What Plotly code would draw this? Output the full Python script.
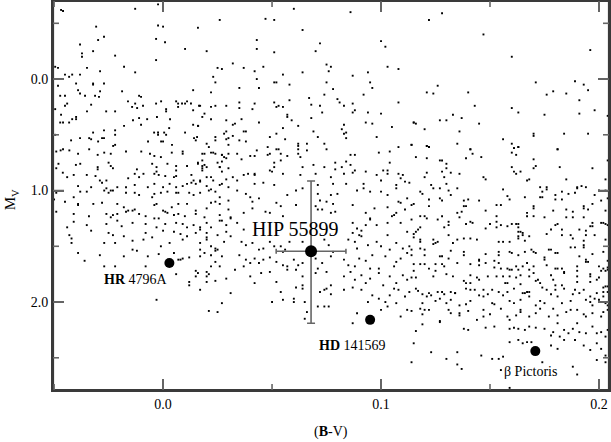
import plotly.graph_objects as go

# ---------------- field stars (B-V, M_V), read region by region ----------------
field_upper_left = [
    (-0.0468, -0.62), (-0.0459, -0.61), (-0.0128, -0.63), (-0.0023, -0.67), (-0.0307, -0.47),
    (-0.0023, -0.48), (0.0, -0.47), (-0.0271, -0.38), (-0.0298, -0.35), (-0.0032, -0.36),
    (0.0009, -0.33), (-0.0381, -0.31), (-0.0321, -0.25), (-0.0372, -0.23), (-0.0372, -0.20),
    (0.0101, -0.27), (-0.0220, -0.21), (-0.0032, -0.17), (-0.0495, -0.11), (-0.0482, -0.10),
    (-0.0349, -0.10), (-0.0179, -0.11), (-0.0289, -0.07), (-0.0128, -0.06), (-0.0450, -0.04),
    (-0.0431, -0.02), (-0.0417, -0.04), (-0.0381, -0.04), (-0.0321, 0.04), (-0.0321, 0.05),
    (-0.0271, 0.04), (-0.0399, 0.04), (-0.0482, 0.06), (-0.0390, 0.10), (-0.0381, 0.13),
    (-0.0358, 0.15), (-0.0289, 0.11), (-0.0312, 0.15), (-0.0294, 0.16), (-0.0188, 0.11),
    (0.0138, 0.10), (-0.0472, 0.15), (-0.0450, 0.15), (-0.0110, 0.15), (-0.0101, 0.16),
    (-0.0161, 0.20), (-0.0128, 0.22), (-0.0142, 0.25), (-0.0119, 0.26), (-0.0092, 0.24),
    (-0.0032, 0.22), (-0.0009, 0.20), (0.0060, 0.20), (0.0069, 0.22), (0.0069, 0.25),
    (0.0087, 0.22), (0.0110, 0.20), (0.0101, 0.22), (0.0128, 0.22), (-0.0440, 0.22),
    (-0.0450, 0.24), (-0.0495, 0.27), (-0.0330, 0.23), (-0.0261, 0.29), (-0.0220, 0.29),
    (-0.0349, 0.29), (0.0014, 0.27), (0.0014, 0.29), (0.0138, 0.28), (0.0165, 0.24),
    (-0.0468, 0.32), (-0.0472, 0.39), (-0.0459, 0.39), (-0.0417, 0.36), (-0.0399, 0.34),
    (-0.0399, 0.36), (-0.0431, 0.39), (-0.0138, 0.37), (-0.0110, 0.35), (-0.0073, 0.36),
    (-0.0028, 0.34), (0.0032, 0.36), (-0.0179, 0.42), (-0.0101, 0.41), (0.0138, 0.41),
    (0.0161, 0.42), (0.0028, 0.44), (-0.0321, 0.48), (-0.0271, 0.46), (-0.0220, 0.46),
    (-0.0220, 0.50), (-0.0041, 0.48), (-0.0023, 0.48), (-0.0023, 0.50), (0.0005, 0.48),
    (0.0014, 0.50), (0.0101, 0.48), (-0.0495, 0.50), (-0.0381, 0.53), (-0.0339, 0.53),
    (-0.0330, 0.54), (-0.0298, 0.56), (-0.0280, 0.53), (-0.0271, 0.53), (-0.0422, 0.55),
    (-0.0069, 0.56), (-0.0009, 0.56), (0.0, 0.56), (0.0041, 0.59), (-0.0220, 0.59),
    (-0.0229, 0.60), (0.0142, 0.53), (0.0156, 0.52), (-0.0459, 0.63), (-0.0339, 0.63),
]

field_middle_left = [
    (-0.049, 0.65), (-0.047, 0.64), (-0.043, 0.64), (-0.039, 0.67), (-0.030, 0.68), (-0.027, 0.66),
    (-0.024, 0.67), (-0.017, 0.65), (-0.010, 0.65), (-0.006, 0.67), (-0.004, 0.69), (-0.001, 0.70),
    (0.004, 0.66), (0.009, 0.67), (0.009, 0.65), (0.019, 0.67), (0.023, 0.66), (0.027, 0.68),
    (0.030, 0.67), (-0.048, 0.76), (-0.049, 0.80), (-0.040, 0.77), (-0.038, 0.76), (-0.030, 0.79),
    (-0.030, 0.81), (-0.025, 0.75), (-0.024, 0.78), (-0.023, 0.80), (-0.012, 0.81), (-0.013, 0.85),
    (-0.005, 0.76), (-0.003, 0.79), (-0.003, 0.83), (0.002, 0.76), (0.006, 0.78), (0.006, 0.82),
    (0.011, 0.78), (0.016, 0.76), (0.018, 0.78), (0.020, 0.79), (0.018, 0.82), (0.026, 0.79),
    (0.030, 0.80), (-0.046, 0.84), (-0.044, 0.88), (-0.041, 0.86), (-0.035, 0.86), (-0.031, 0.87),
    (-0.029, 0.91), (-0.026, 0.91), (-0.016, 0.89), (-0.011, 0.88), (-0.009, 0.85), (-0.004, 0.85),
    (-0.002, 0.86), (0.001, 0.87), (0.005, 0.88), (0.006, 0.87), (0.013, 0.86), (0.014, 0.91),
    (0.017, 0.91), (0.020, 0.88), (0.022, 0.88), (0.023, 0.91), (0.029, 0.90), (-0.039, 0.96),
    (-0.033, 0.97), (-0.028, 0.93), (-0.026, 0.98), (-0.024, 1.00), (-0.021, 0.97), (-0.017, 0.97),
    (-0.013, 0.95), (-0.007, 0.97), (-0.004, 0.94), (0.000, 0.97), (0.003, 0.94), (0.006, 0.97),
    (0.009, 0.96), (0.011, 0.94), (0.013, 0.93), (0.015, 0.94), (0.017, 0.92), (0.020, 0.96),
    (0.022, 0.99), (0.026, 0.95), (0.027, 0.94), (0.030, 0.97), (-0.050, 1.08), (-0.049, 1.02),
    (-0.041, 1.06), (-0.038, 1.01), (-0.035, 1.01), (-0.027, 1.00), (-0.025, 1.02), (-0.023, 1.00),
    (-0.017, 1.02), (-0.013, 1.02), (-0.011, 1.04), (-0.005, 1.06), (-0.004, 1.03), (-0.001, 1.02),
    (0.002, 1.01), (0.006, 1.02), (0.007, 1.02), (0.012, 1.02), (0.014, 1.04), (0.017, 1.02),
    (0.021, 1.00), (0.024, 1.01), (0.022, 1.11), (0.024, 1.10), (0.026, 1.06), (-0.045, 1.10),
    (-0.039, 1.13), (-0.039, 1.12), (-0.032, 1.12), (-0.028, 1.11), (-0.021, 1.12), (-0.018, 1.15),
    (-0.016, 1.18), (-0.014, 1.18), (-0.013, 1.17), (-0.004, 1.13), (-0.003, 1.12), (0.000, 1.18),
    (0.001, 1.19), (0.004, 1.15), (0.007, 1.12), (0.011, 1.12), (0.015, 1.18), (0.020, 1.16),
    (0.026, 1.12), (0.030, 1.17), (0.030, 1.09), (-0.049, 1.19), (-0.041, 1.21), (-0.034, 1.23),
    (-0.026, 1.21), (-0.024, 1.24), (-0.023, 1.22), (-0.021, 1.21), (-0.017, 1.19), (-0.011, 1.21),
    (-0.008, 1.23), (-0.004, 1.25), (-0.002, 1.25), (0.002, 1.20), (0.005, 1.22), (0.007, 1.21),
    (0.010, 1.23), (0.015, 1.21), (0.019, 1.24), (0.026, 1.22), (0.027, 1.27), (0.031, 1.24),
    (-0.041, 1.28), (-0.035, 1.31), (-0.026, 1.30), (-0.021, 1.27), (-0.019, 1.32), (-0.014, 1.29),
    (-0.008, 1.30), (-0.003, 1.33), (0.001, 1.30), (0.006, 1.29), (0.009, 1.30), (0.011, 1.33),
    (0.014, 1.31), (0.017, 1.33), (0.020, 1.29), (0.022, 1.33), (0.026, 1.27), (0.029, 1.31),
    (-0.044, 1.33), (-0.043, 1.40), (-0.033, 1.36), (-0.025, 1.38), (-0.023, 1.40), (-0.018, 1.41),
    (-0.008, 1.38), (-0.005, 1.42), (0.000, 1.36), (0.005, 1.37), (0.008, 1.39), (0.011, 1.41),
    (0.015, 1.38), (0.017, 1.35), (0.020, 1.42), (0.025, 1.40), (0.029, 1.37), (0.020, 1.38),
    (-0.042, 1.43), (-0.042, 1.47), (-0.027, 1.47), (-0.022, 1.47), (-0.014, 1.45), (-0.009, 1.44),
    (-0.001, 1.50), (0.003, 1.47), (0.009, 1.44), (0.017, 1.47), (0.020, 1.44), (0.022, 1.50),
    (0.024, 1.52), (0.028, 1.46), (0.017, 1.53), (0.025, 1.53), (-0.039, 1.56), (-0.036, 1.63),
    (-0.029, 1.58), (-0.018, 1.59), (-0.014, 1.53), (-0.012, 1.54), (-0.007, 1.59), (-0.002, 1.57),
    (0.005, 1.56), (0.012, 1.60), (0.017, 1.59), (0.019, 1.56), (0.022, 1.58), (0.024, 1.54),
    (0.027, 1.59), (-0.027, 1.68), (-0.022, 1.68), (-0.008, 1.68), (0.007, 1.62), (0.008, 1.62),
    (0.009, 1.61), (0.015, 1.72), (0.016, 1.74), (0.020, 1.73), (0.022, 1.68), (0.026, 1.68),
    (0.024, 1.64), (0.012, 1.82), (0.012, 1.85), (0.020, 1.77), (0.021, 1.75), (0.015, 1.77),
    (0.024, 1.81), (0.029, 1.79), (0.006, 1.75), (0.017, 1.89), (0.020, 1.82), (-0.003, 1.98),
    (0.021, 2.08), (0.025, 2.09), (0.027, 2.01),
]

field_upper_middle = [
    (0.060, -0.63), (0.086, -0.60), (0.026, -0.53), (0.047, -0.54), (0.051, -0.53), (0.016, -0.46),
    (0.064, -0.44), (0.043, -0.35), (0.043, -0.27), (0.072, -0.32), (0.100, -0.34), (0.102, -0.29),
    (0.020, -0.25), (0.051, -0.24), (0.070, -0.25), (0.032, -0.14), (0.075, -0.13), (0.077, -0.11),
    (0.025, -0.10), (0.027, -0.09), (0.037, -0.10), (0.042, -0.07), (0.046, -0.11), (0.076, -0.07),
    (0.103, -0.11), (0.108, -0.09), (0.064, -0.06), (0.094, -0.06), (0.023, -0.02), (0.055, -0.04),
    (0.087, -0.03), (0.043, 0.00), (0.024, 0.03), (0.051, 0.03), (0.052, 0.03), (0.075, 0.03),
    (0.095, 0.03), (0.058, 0.05), (0.035, 0.08), (0.044, 0.08), (0.078, 0.09), (0.096, 0.08),
    (0.022, 0.12), (0.074, 0.14), (0.092, 0.14), (0.067, 0.17), (0.080, 0.18), (0.058, 0.19),
    (0.081, 0.21), (0.087, 0.22), (0.108, 0.21), (0.017, 0.24), (0.022, 0.25), (0.024, 0.24),
    (0.029, 0.24), (0.035, 0.21), (0.035, 0.26), (0.042, 0.22), (0.041, 0.27), (0.051, 0.21),
    (0.052, 0.25), (0.053, 0.24), (0.055, 0.25), (0.068, 0.23), (0.072, 0.24), (0.083, 0.24),
    (0.019, 0.31), (0.018, 0.34), (0.022, 0.36), (0.029, 0.37), (0.036, 0.36), (0.057, 0.32),
    (0.057, 0.34), (0.059, 0.37), (0.073, 0.30), (0.068, 0.35), (0.087, 0.30), (0.088, 0.28),
    (0.094, 0.30), (0.100, 0.31), (0.044, 0.39), (0.016, 0.42), (0.032, 0.41), (0.033, 0.40),
    (0.055, 0.44), (0.062, 0.42), (0.083, 0.41), (0.093, 0.39), (0.096, 0.40), (0.105, 0.43),
    (0.115, 0.39), (0.029, 0.47), (0.037, 0.47), (0.038, 0.47), (0.082, 0.45), (0.083, 0.49),
    (0.084, 0.48), (0.069, 0.47), (0.024, 0.52), (0.024, 0.55), (0.028, 0.49), (0.029, 0.54),
    (0.030, 0.53), (0.032, 0.51), (0.035, 0.55), (0.038, 0.56), (0.049, 0.52), (0.052, 0.49),
    (0.056, 0.54), (0.071, 0.52), (0.084, 0.53), (0.098, 0.52), (0.015, 0.55), (0.020, 0.58),
    (0.021, 0.61), (0.030, 0.59), (0.062, 0.58), (0.062, 0.60), (0.066, 0.58), (0.074, 0.58),
    (0.048, 0.61), (0.114, 0.59), (0.108, 0.61), (0.018, 0.67), (0.022, 0.66), (0.024, 0.67),
    (0.027, 0.68), (0.028, 0.70), (0.029, 0.71), (0.034, 0.67), (0.040, 0.69), (0.043, 0.64),
    (0.042, 0.69), (0.048, 0.68), (0.049, 0.67), (0.052, 0.63), (0.053, 0.63), (0.054, 0.67),
    (0.057, 0.69), (0.062, 0.63), (0.062, 0.67), (0.063, 0.70), (0.066, 0.64), (0.075, 0.63),
    (0.086, 0.68), (0.088, 0.68), (0.099, 0.66), (0.104, 0.65), (0.018, 0.73), (0.016, 0.75),
    (0.019, 0.77), (0.018, 0.80), (0.025, 0.75), (0.027, 0.74), (0.026, 0.79), (0.036, 0.72),
    (0.051, 0.75), (0.051, 0.79), (0.054, 0.73), (0.064, 0.79), (0.069, 0.77), (0.074, 0.79),
    (0.079, 0.75), (0.079, 0.81), (0.082, 0.79), (0.084, 0.74), (0.086, 0.77), (0.088, 0.82),
    (0.104, 0.75), (0.101, 0.82), (0.103, 0.82), (0.027, 0.83), (0.039, 0.85), (0.042, 0.85),
    (0.049, 0.82), (0.108, 0.85),
]

field_upper_right = [
    (0.128, -0.59), (0.122, -0.53), (0.147, -0.40), (0.160, -0.20), (0.196, -0.26), (0.171, 0.03),
    (0.189, 0.02), (0.193, 0.05), (0.195, 0.10), (0.126, 0.06), (0.121, 0.12), (0.124, 0.13),
    (0.140, 0.12), (0.176, 0.14), (0.179, 0.11), (0.185, 0.13), (0.191, 0.19), (0.143, 0.24),
    (0.160, 0.26), (0.163, 0.30), (0.198, 0.28), (0.204, 0.33), (0.133, 0.32), (0.137, 0.35),
    (0.115, 0.39), (0.116, 0.40), (0.127, 0.37), (0.130, 0.37), (0.145, 0.40), (0.175, 0.32),
    (0.191, 0.31), (0.120, 0.45), (0.136, 0.47), (0.170, 0.49), (0.170, 0.51), (0.184, 0.49),
    (0.195, 0.49), (0.156, 0.54), (0.114, 0.59), (0.121, 0.60), (0.122, 0.61), (0.135, 0.58),
    (0.160, 0.58), (0.163, 0.61), (0.161, 0.62), (0.141, 0.63), (0.181, 0.63),
]

field_middle_right = [
    (0.121, 0.60), (0.122, 0.61), (0.141, 0.63), (0.142, 0.67), (0.160, 0.66), (0.161, 0.62),
    (0.163, 0.61), (0.162, 0.68), (0.116, 0.70), (0.121, 0.71), (0.127, 0.73), (0.128, 0.73),
    (0.139, 0.71), (0.146, 0.70), (0.170, 0.72), (0.181, 0.63), (0.204, 0.73), (0.130, 0.76),
    (0.130, 0.80), (0.128, 0.83), (0.132, 0.84), (0.136, 0.85), (0.121, 0.84), (0.120, 0.88),
    (0.129, 0.88), (0.160, 0.79), (0.161, 0.83), (0.162, 0.85), (0.164, 0.83), (0.171, 0.78),
    (0.170, 0.80), (0.182, 0.79), (0.197, 0.80), (0.147, 0.88), (0.148, 0.90), (0.167, 0.91),
    (0.168, 0.90), (0.185, 0.90), (0.203, 0.90), (0.113, 0.93), (0.123, 0.95), (0.124, 0.98),
    (0.118, 1.01), (0.119, 1.03), (0.127, 0.98), (0.130, 0.94), (0.131, 1.00), (0.132, 1.04),
    (0.135, 0.98), (0.156, 0.99), (0.158, 1.05), (0.173, 0.97), (0.174, 1.01), (0.176, 0.99),
    (0.176, 0.97), (0.180, 1.04), (0.183, 1.01), (0.186, 1.03), (0.189, 1.02), (0.190, 0.97),
    (0.192, 0.96), (0.194, 0.97), (0.190, 0.98), (0.198, 1.04), (0.200, 1.00), (0.203, 1.00),
    (0.115, 1.12), (0.114, 1.13), (0.122, 1.08), (0.122, 1.14), (0.127, 1.07), (0.128, 1.09),
    (0.138, 1.09), (0.140, 1.08), (0.138, 1.14), (0.139, 1.14), (0.145, 1.09), (0.159, 1.08),
    (0.166, 1.06), (0.170, 1.14), (0.170, 1.16), (0.153, 1.13), (0.155, 1.13), (0.173, 1.06),
    (0.174, 1.06), (0.180, 1.08), (0.183, 1.08), (0.193, 1.14), (0.193, 1.16), (0.195, 1.17),
    (0.197, 1.12), (0.201, 1.09), (0.185, 1.17), (0.188, 1.19), (0.203, 1.18), (0.204, 1.07),
    (0.114, 1.26), (0.118, 1.23), (0.120, 1.23), (0.121, 1.25), (0.126, 1.26), (0.128, 1.23),
    (0.131, 1.28), (0.131, 1.31), (0.135, 1.20), (0.137, 1.19), (0.136, 1.24), (0.139, 1.30),
    (0.141, 1.28), (0.142, 1.29), (0.148, 1.18), (0.150, 1.30), (0.153, 1.23), (0.153, 1.28),
    (0.155, 1.31), (0.158, 1.32), (0.160, 1.30), (0.162, 1.30), (0.163, 1.30), (0.167, 1.20),
    (0.167, 1.23), (0.170, 1.23), (0.175, 1.24), (0.179, 1.18), (0.181, 1.30), (0.185, 1.24),
    (0.188, 1.24), (0.193, 1.24), (0.196, 1.32), (0.197, 1.29), (0.201, 1.29), (0.203, 1.30),
    (0.204, 1.31), (0.115, 1.39), (0.116, 1.37), (0.117, 1.35), (0.118, 1.33), (0.115, 1.42),
    (0.118, 1.44), (0.118, 1.46), (0.124, 1.44), (0.124, 1.48), (0.125, 1.47), (0.126, 1.46),
    (0.129, 1.33), (0.131, 1.40), (0.133, 1.47), (0.135, 1.44), (0.138, 1.43), (0.141, 1.43),
    (0.144, 1.44), (0.148, 1.34), (0.153, 1.33), (0.154, 1.46), (0.156, 1.46), (0.159, 1.46),
    (0.163, 1.33), (0.163, 1.37), (0.164, 1.37), (0.165, 1.40), (0.165, 1.38), (0.168, 1.41),
    (0.163, 1.41), (0.163, 1.43), (0.166, 1.45), (0.176, 1.39), (0.178, 1.35), (0.180, 1.31),
    (0.183, 1.35), (0.183, 1.40), (0.187, 1.40), (0.188, 1.43), (0.191, 1.35), (0.193, 1.45),
    (0.194, 1.36), (0.194, 1.40), (0.197, 1.32), (0.198, 1.40), (0.202, 1.29), (0.203, 1.44),
    (0.114, 1.53), (0.114, 1.58), (0.118, 1.52), (0.120, 1.53), (0.120, 1.58), (0.127, 1.59),
    (0.128, 1.59), (0.131, 1.61), (0.132, 1.54), (0.138, 1.55), (0.138, 1.58), (0.145, 1.62),
    (0.148, 1.57), (0.154, 1.55), (0.154, 1.58), (0.159, 1.55), (0.160, 1.56), (0.163, 1.58),
    (0.166, 1.55), (0.169, 1.53), (0.170, 1.55), (0.171, 1.56), (0.177, 1.53), (0.178, 1.53),
    (0.175, 1.60), (0.180, 1.56), (0.181, 1.56), (0.187, 1.51), (0.189, 1.51), (0.193, 1.49),
    (0.193, 1.51), (0.191, 1.59), (0.194, 1.62), (0.197, 1.57), (0.202, 1.55), (0.204, 1.63),
    (0.115, 1.66), (0.118, 1.66), (0.120, 1.66), (0.122, 1.70), (0.125, 1.66), (0.128, 1.66),
    (0.129, 1.68), (0.135, 1.65), (0.141, 1.66), (0.145, 1.63), (0.145, 1.67), (0.148, 1.65),
    (0.152, 1.63), (0.152, 1.69), (0.154, 1.65), (0.155, 1.70), (0.158, 1.70), (0.159, 1.71),
    (0.160, 1.71), (0.162, 1.68), (0.163, 1.71), (0.165, 1.68), (0.167, 1.65), (0.168, 1.71),
    (0.170, 1.68), (0.175, 1.62), (0.176, 1.67), (0.180, 1.70), (0.181, 1.70), (0.183, 1.70),
    (0.184, 1.73), (0.184, 1.74), (0.190, 1.68), (0.190, 1.72), (0.194, 1.64), (0.195, 1.64),
    (0.196, 1.75), (0.196, 1.77), (0.200, 1.68), (0.201, 1.72), (0.202, 1.70), (0.203, 1.72),
    (0.204, 1.71), (0.204, 1.69), (0.115, 1.72), (0.114, 1.78), (0.116, 1.78), (0.125, 1.72),
    (0.124, 1.77), (0.130, 1.75), (0.133, 1.77), (0.138, 1.81), (0.139, 1.83), (0.141, 1.76),
    (0.141, 1.83), (0.144, 1.78), (0.145, 1.80), (0.149, 1.77), (0.153, 1.77), (0.156, 1.77),
    (0.159, 1.77), (0.162, 1.78), (0.170, 1.74), (0.168, 1.77), (0.164, 1.76), (0.157, 1.83),
    (0.158, 1.83), (0.164, 1.84), (0.171, 1.81), (0.172, 1.80), (0.173, 1.83), (0.178, 1.76),
    (0.179, 1.80), (0.180, 1.85), (0.183, 1.85), (0.184, 1.88), (0.190, 1.82), (0.190, 1.77),
    (0.196, 1.82), (0.199, 1.80), (0.200, 1.78), (0.202, 1.87), (0.203, 1.86), (0.204, 1.86),
    (0.204, 1.91), (0.202, 1.91), (0.199, 1.92), (0.193, 1.89), (0.189, 1.89), (0.180, 1.89),
    (0.176, 1.89), (0.174, 1.87), (0.168, 1.91), (0.167, 1.91), (0.166, 1.92), (0.161, 1.88),
    (0.158, 1.91), (0.154, 1.91), (0.151, 1.89), (0.147, 1.89), (0.143, 1.89), (0.141, 1.89),
    (0.139, 1.88), (0.132, 1.91), (0.134, 1.92), (0.128, 1.91), (0.126, 1.91), (0.122, 1.92),
    (0.117, 1.90), (0.116, 1.88),
]

field_lower_right = [
    (0.119, 1.93), (0.121, 1.95), (0.123, 1.94), (0.125, 1.99), (0.127, 1.97), (0.129, 1.93),
    (0.130, 2.01), (0.132, 1.98), (0.134, 1.92), (0.136, 2.03), (0.139, 2.02), (0.141, 1.99),
    (0.145, 1.94), (0.147, 1.95), (0.149, 1.93), (0.151, 2.01), (0.152, 2.02), (0.156, 1.94),
    (0.159, 1.99), (0.161, 2.01), (0.164, 1.98), (0.165, 1.92), (0.168, 1.95), (0.171, 2.03),
    (0.173, 1.99), (0.175, 2.01), (0.178, 1.93), (0.181, 1.95), (0.183, 2.01), (0.187, 1.99),
    (0.188, 1.93), (0.191, 1.92), (0.194, 1.98), (0.196, 1.95), (0.198, 1.97), (0.200, 1.98),
    (0.202, 1.95), (0.203, 2.01), (0.204, 2.03), (0.119, 2.01), (0.118, 2.06), (0.120, 2.07),
    (0.197, 2.03), (0.196, 2.00), (0.119, 2.11), (0.122, 2.07), (0.127, 2.17), (0.131, 2.07),
    (0.132, 2.10), (0.136, 2.10), (0.136, 2.12), (0.140, 2.08), (0.144, 2.16), (0.147, 2.13),
    (0.147, 2.07), (0.150, 2.11), (0.155, 2.06), (0.158, 2.13), (0.159, 2.16), (0.162, 2.12),
    (0.164, 2.07), (0.164, 2.09), (0.168, 2.13), (0.171, 2.10), (0.173, 2.06), (0.177, 2.13),
    (0.179, 2.06), (0.181, 2.12), (0.185, 2.09), (0.187, 2.07), (0.190, 2.07), (0.193, 2.11),
    (0.194, 2.13), (0.197, 2.10), (0.201, 2.13), (0.204, 2.07), (0.202, 2.09), (0.119, 2.20),
    (0.127, 2.18), (0.138, 2.24), (0.140, 2.25), (0.148, 2.23), (0.152, 2.22), (0.159, 2.24),
    (0.161, 2.23), (0.163, 2.24), (0.166, 2.25), (0.168, 2.22), (0.171, 2.23), (0.179, 2.27),
    (0.181, 2.19), (0.184, 2.25), (0.186, 2.28), (0.188, 2.24), (0.191, 2.27), (0.194, 2.28),
    (0.197, 2.22), (0.199, 2.28), (0.201, 2.27), (0.203, 2.31), (0.204, 2.25), (0.175, 2.24),
    (0.178, 2.30), (0.182, 2.31), (0.190, 2.19), (0.159, 2.36), (0.163, 2.34), (0.165, 2.37),
    (0.167, 2.36), (0.169, 2.36), (0.181, 2.42), (0.184, 2.34), (0.189, 2.34), (0.193, 2.39),
    (0.196, 2.43), (0.199, 2.37), (0.201, 2.42), (0.203, 2.48), (0.123, 2.45), (0.135, 2.45),
    (0.146, 2.48), (0.130, 2.51), (0.151, 2.51), (0.154, 2.51), (0.156, 2.49), (0.174, 2.54),
    (0.178, 2.39), (0.135, 2.56), (0.137, 2.60), (0.155, 2.61), (0.188, 2.58), (0.190, 2.65),
    (0.199, 2.52), (0.203, 2.54), (0.159, 2.77), (0.115, 2.37), (0.114, 2.54), (0.116, 2.26),
    (0.114, 2.08),
]

field_center = [
    (0.032, 0.88), (0.037, 0.86), (0.042, 0.86), (0.050, 0.83), (0.055, 0.85), (0.063, 0.86),
    (0.070, 0.85), (0.077, 0.88), (0.083, 0.85), (0.087, 0.84), (0.093, 0.83), (0.098, 0.86),
    (0.103, 0.85), (0.109, 0.89), (0.110, 0.86), (0.042, 0.94), (0.046, 0.93), (0.051, 0.95),
    (0.071, 0.95), (0.078, 0.94), (0.084, 0.94), (0.092, 0.94), (0.100, 0.91), (0.107, 0.95),
    (0.111, 0.92), (0.034, 0.91), (0.034, 1.00), (0.038, 1.03), (0.040, 1.06), (0.041, 1.10),
    (0.044, 1.07), (0.052, 1.11), (0.057, 1.04), (0.061, 1.00), (0.064, 0.98), (0.071, 1.03),
    (0.072, 1.09), (0.077, 1.04), (0.080, 1.03), (0.089, 1.00), (0.092, 0.98), (0.095, 1.01),
    (0.100, 1.01), (0.103, 1.04), (0.107, 0.98), (0.108, 1.10), (0.112, 1.07), (0.075, 1.10),
    (0.078, 1.12), (0.031, 1.25), (0.037, 1.20), (0.041, 1.16), (0.047, 1.19), (0.049, 1.20),
    (0.054, 1.14), (0.055, 1.23), (0.061, 1.13), (0.070, 1.14), (0.071, 1.17), (0.073, 1.17),
    (0.077, 1.20), (0.079, 1.19), (0.087, 1.13), (0.093, 1.20), (0.095, 1.25), (0.097, 1.16),
    (0.103, 1.15), (0.106, 1.22), (0.107, 1.20), (0.109, 1.11), (0.111, 1.17), (0.105, 1.23),
    (0.034, 1.29), (0.037, 1.35), (0.031, 1.41), (0.087, 1.29), (0.089, 1.34), (0.091, 1.36),
    (0.090, 1.40), (0.093, 1.31), (0.095, 1.26), (0.098, 1.31), (0.103, 1.29), (0.109, 1.29),
    (0.112, 1.37), (0.087, 1.38), (0.091, 1.41), (0.103, 1.40), (0.036, 1.46), (0.038, 1.49),
    (0.041, 1.47), (0.044, 1.53), (0.046, 1.52), (0.049, 1.46), (0.051, 1.50), (0.054, 1.50),
    (0.055, 1.55), (0.058, 1.46), (0.064, 1.46), (0.074, 1.44), (0.076, 1.49), (0.078, 1.55),
    (0.085, 1.44), (0.088, 1.46), (0.089, 1.52), (0.094, 1.49), (0.098, 1.46), (0.100, 1.50),
    (0.104, 1.53), (0.107, 1.47), (0.110, 1.52), (0.113, 1.50), (0.056, 1.53), (0.035, 1.58),
    (0.038, 1.62), (0.040, 1.65), (0.037, 1.68), (0.042, 1.61), (0.044, 1.65), (0.046, 1.62),
    (0.049, 1.60), (0.052, 1.64), (0.055, 1.67), (0.057, 1.68), (0.060, 1.62), (0.062, 1.67),
    (0.064, 1.65), (0.070, 1.61), (0.073, 1.65), (0.071, 1.70), (0.077, 1.59), (0.083, 1.62),
    (0.085, 1.67), (0.088, 1.68), (0.090, 1.61), (0.093, 1.63), (0.096, 1.58), (0.099, 1.70),
    (0.102, 1.59), (0.107, 1.64), (0.109, 1.61), (0.112, 1.56), (0.095, 1.70), (0.106, 1.68),
    (0.033, 1.71), (0.040, 1.77), (0.042, 1.83), (0.045, 1.74), (0.049, 1.73), (0.052, 1.82),
    (0.057, 1.71), (0.061, 1.71), (0.064, 1.77), (0.064, 1.85), (0.070, 1.74), (0.075, 1.73),
    (0.077, 1.85), (0.075, 1.88), (0.083, 1.77), (0.086, 1.73), (0.088, 1.80), (0.091, 1.76),
    (0.093, 1.83), (0.095, 1.79), (0.099, 1.74), (0.101, 1.85), (0.104, 1.77), (0.107, 1.83),
    (0.110, 1.76), (0.112, 1.80), (0.106, 1.88), (0.031, 1.92), (0.054, 1.91), (0.061, 1.87),
    (0.064, 1.88), (0.072, 1.91), (0.074, 1.89), (0.077, 1.93), (0.083, 1.89), (0.087, 1.87),
    (0.091, 1.89), (0.096, 1.94), (0.099, 1.97), (0.102, 2.00), (0.104, 1.94), (0.108, 1.89),
    (0.111, 1.95), (0.113, 1.91), (0.094, 2.00), (0.055, 1.98), (0.060, 1.97), (0.066, 2.09),
    (0.065, 2.15), (0.071, 2.04), (0.074, 2.04), (0.076, 2.04), (0.089, 2.10), (0.103, 2.04),
    (0.107, 2.01), (0.112, 2.07), (0.100, 2.07), (0.087, 2.19), (0.109, 2.13), (0.050, 2.00),
    (0.060, 2.00), (0.065, 2.00),
]

# ---------------- labelled stars ----------------
star_names = ["HIP 55899", "HR 4796A", "HD 141569", "β Pictoris"]
star_label_text = ["HIP 55899", "<b>HR</b> 4796A", "<b>HD</b> 141569", "β Pictoris"]
star_bv = [0.0679, 0.0029, 0.0950, 0.1708]
star_mv = [1.545, 1.65, 2.16, 2.44]
label_bv = [0.0606, -0.0124, 0.0867, 0.1688]
label_mv = [1.345, 1.80, 2.386, 2.62]
label_size = [20, 14, 14, 14]

hip_bv_err = 0.016
hip_mv_err_bright = 0.63
hip_mv_err_faint = 0.645

x_range = [-0.0505, 0.2046]
y_range = [2.789, -0.70]
x_major_ticks = [0.0, 0.1, 0.2]
x_minor_ticks = [-0.05, 0.05, 0.15]
y_major_ticks = [0.0, 1.0, 2.0]
y_minor_ticks = [-0.5, 0.5, 1.5, 2.5]

field = (field_upper_left + field_middle_left + field_upper_middle + field_upper_right
         + field_middle_right + field_lower_right + field_center)
field_bv = [p[0] for p in field]
field_mv = [p[1] for p in field]

FONT = "Liberation Serif"
FRAME = "#3a3a3a"
TICK = "#666666"
W, H = 611, 442
ML, MR, MT, MB = 53, 2, 1, 52
PLOT_W = W - ML - MR
PLOT_H = H - MT - MB
x_per_px = (x_range[1] - x_range[0]) / PLOT_W
y_per_px = (y_range[0] - y_range[1]) / PLOT_H

fig = go.Figure()
fig.add_trace(go.Scatter(
    x=field_bv, y=field_mv, mode="markers",
    marker=dict(symbol="square", size=1.9, color="black", line=dict(width=0)),
    hoverinfo="skip", showlegend=False,
))
fig.add_trace(go.Scatter(
    x=[star_bv[0]], y=[star_mv[0]], mode="markers",
    marker=dict(symbol="circle", size=12, color="black", line=dict(width=0)),
    error_x=dict(type="data", array=[hip_bv_err], color=TICK, thickness=1.6, width=2.5),
    error_y=dict(type="data", array=[hip_mv_err_faint], arrayminus=[hip_mv_err_bright],
                 symmetric=False, color=TICK, thickness=1.6, width=4),
    showlegend=False, name=star_names[0],
))
fig.add_trace(go.Scatter(
    x=star_bv[1:], y=star_mv[1:], mode="markers",
    marker=dict(symbol="circle", size=10, color="black", line=dict(width=0)),
    showlegend=False, text=star_names[1:],
))

# ---- frame as thin filled strips (paper coordinates) ----
fx = 1.1 / PLOT_W
fy = 1.1 / PLOT_H
for x0, x1, y0, y1 in ((0 - fx, 1 + fx, 0 - fy, 0 + fy), (0 - fx, 1 + fx, 1 - fy, 1 + fy),
                       (0 - fx, 0 + fx, 0 - fy, 1 + fy), (1 - fx, 1 + fx, 0 - fy, 1 + fy)):
    fig.add_shape(type="rect", xref="paper", yref="paper", x0=x0, x1=x1, y0=y0, y1=y1,
                  fillcolor=FRAME, line=dict(width=0), layer="above")

# ---- inward ticks as thin filled strips, placed at the tick values ----
half_w_x = 0.8 * x_per_px
half_w_y = 0.8 * y_per_px
for vals, length in ((x_major_ticks, 11), (x_minor_ticks, 6)):
    for v in vals:
        for y0, y1 in ((0.0, length / PLOT_H), (1.0 - length / PLOT_H, 1.0)):
            fig.add_shape(type="rect", xref="x", yref="paper",
                          x0=v - half_w_x, x1=v + half_w_x, y0=y0, y1=y1,
                          fillcolor=TICK, line=dict(width=0), layer="above")
for vals, length in ((y_major_ticks, 11), (y_minor_ticks, 6)):
    for v in vals:
        for x0, x1 in ((0.0, length / PLOT_W), (1.0 - length / PLOT_W, 1.0)):
            fig.add_shape(type="rect", xref="paper", yref="y",
                          x0=x0, x1=x1, y0=v - half_w_y, y1=v + half_w_y,
                          fillcolor=TICK, line=dict(width=0), layer="above")

for txt, bx, my, fs in zip(star_label_text, label_bv, label_mv, label_size):
    fig.add_annotation(x=bx, y=my, xref="x", yref="y", text=txt, showarrow=False,
                       font=dict(family=FONT, size=fs, color="black"),
                       xanchor="center", yanchor="middle")

fig.add_annotation(x=-0.074, y=0.49, xref="paper", yref="paper", text="M<sub>V</sub>",
                   textangle=-90, showarrow=False,
                   font=dict(family=FONT, size=15, color="black"),
                   xanchor="center", yanchor="middle")
fig.add_annotation(x=0.077, y=-0.108, xref="x", yref="paper", text="(<b>B</b>-V)",
                   showarrow=False, font=dict(family=FONT, size=14, color="black"),
                   xanchor="center", yanchor="middle")

# native axes too (frame line + inward ticks), in case they render
axis_common = dict(
    showline=True, linecolor=FRAME, linewidth=2, mirror="allticks",
    ticks="inside", ticklen=11, tickwidth=1.5, tickcolor=TICK,
    showgrid=False, zeroline=False, automargin=False,
    tickfont=dict(family=FONT, size=14, color="black"), tickformat=".1f",
)
fig.update_layout(
    template="none",
    width=W, height=H,
    margin=dict(l=ML, r=MR, t=MT, b=MB),
    paper_bgcolor="white", plot_bgcolor="white",
    font=dict(family=FONT, color="black"),
    showlegend=False,
    xaxis=dict(range=x_range, tickmode="array", tickvals=x_major_ticks, **axis_common),
    yaxis=dict(range=y_range, tickmode="array", tickvals=y_major_ticks, **axis_common),
)

fig.write_html("out.html", config={"displayModeBar": False},
               post_script="document.body.style.margin='0px';")
